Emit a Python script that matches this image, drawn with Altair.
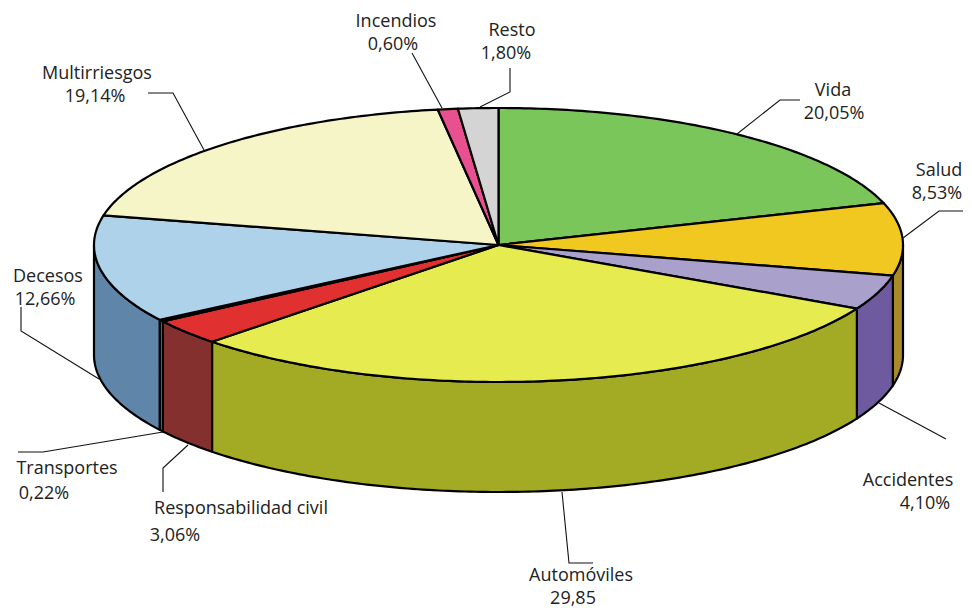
import math
import altair as alt
import pandas as pd

# ---- chart content -------------------------------------------------------
categories = ["Vida", "Salud", "Accidentes", "Automóviles", "Responsabilidad civil",
              "Transportes", "Decesos", "Multirriesgos", "Incendios", "Resto"]
printed_values = ["20,05%", "8,53%", "4,10%", "29,85", "3,06%",
                  "0,22%", "12,66%", "19,14%", "0,60%", "1,80%"]
shares = [20.05, 8.53, 4.10, 29.85, 3.06, 0.22, 12.66, 19.14, 0.80, 1.60]
top_colors = ["#7AC65A", "#F0C820", "#A9A0CC", "#E6EC50", "#E03030",
              "#7FA83C", "#AED2EA", "#F5F5C8", "#E8508F", "#D4D4D4"]
side_colors = ["#5E9A45", "#A88A28", "#6E5A9E", "#A3AB25", "#83302E",
               "#7B9E3A", "#5F85A8", "#BDBD98", "#B03D6E", "#A3A3A3"]

# ---- layout of the drawing (picture units) --------------------------------
CX, CY, RX, RY, DEPTH = 498.5, 245, 404.5, 137, 110
FONT, FSIZE, INK, NUDGE = "Open Sans", 18, "#222222", 2

name_pos = [(833, 89), (939, 169), (908, 479), (581, 574), (241, 507),
            (67, 467), (48, 275), (97, 72), (396, 20), (512, 29)]
value_pos = [(834, 112), (937, 192), (925, 502), (573, 597), (175, 534),
             (44, 492), (45, 298), (95, 95), (393, 43), (506, 52)]
leaders = [
    [(737, 134), (780, 100), (800, 100)],
    [(903, 238), (939, 211), (963, 211)],
    [(879, 403), (946, 439)],
    [(562, 492), (569, 563), (593, 563)],
    [(188, 445), (163, 468), (163, 492)],
    [(163, 432), (43, 452), (18, 452)],
    [(99, 379), (21, 331), (21, 307)],
    [(204, 150), (173, 93), (148, 93)],
    [(442, 108), (412, 53)],
    [(480, 107), (510, 92), (510, 68)],
]

# ---- scales: data units equal picture pixels ------------------------------
W, H = 956, 600
xs = alt.Scale(domain=[8, 8 + W], range=[0, W])
ys = alt.Scale(domain=[8, 8 + H], range=[0, H])
X = lambda f="x": alt.X(f + ":Q", scale=xs, axis=None)
Y = lambda f="y": alt.Y(f + ":Q", scale=ys, axis=None)


def rim(angle, drop=0.0):
    a = math.radians(angle)
    return CX + RX * math.sin(a), CY - RY * math.cos(a) + drop


def sweep(a0, a1):
    n = max(2, int(abs(a1 - a0) / 0.75) + 2)
    return [a0 + (a1 - a0) * i / (n - 1) for i in range(n)]


def polygon(points, fill):
    df = pd.DataFrame([{"x": p[0], "y": p[1], "i": i} for i, p in enumerate(points)])
    return alt.Chart(df).mark_line(
        interpolate="linear-closed", fill=fill, stroke="black",
        strokeWidth=2.2, strokeJoin="round", clip=False,
    ).encode(x=X(), y=Y(), order="i:Q")


total = sum(shares)
edges = [0.0]
for s in shares:
    edges.append(edges[-1] + 360.0 * s / total)

layers = []
# side walls (only the part of the rim that faces the viewer)
for k in range(len(shares)):
    a0, a1 = max(edges[k], 90.0), min(edges[k + 1], 270.0)
    if a1 > a0:
        arc = sweep(a0, a1)
        pts = [rim(a) for a in arc] + [rim(a, DEPTH) for a in reversed(arc)]
        layers.append(polygon(pts, side_colors[k]))
# top face
for k in range(len(shares)):
    pts = [(CX, CY)] + [rim(a) for a in sweep(edges[k], edges[k + 1])]
    layers.append(polygon(pts, top_colors[k]))

# leader lines
rows = []
for k, line in enumerate(leaders):
    for i, p in enumerate(line):
        rows.append({"x": p[0], "y": p[1], "i": i, "k": categories[k]})
layers.append(
    alt.Chart(pd.DataFrame(rows)).mark_line(color="#111111", strokeWidth=1.1, clip=False)
    .encode(x=X(), y=Y(), order="i:Q", detail="k:N")
)

# labels
label_rows = []
for k in range(len(categories)):
    label_rows.append({"t": categories[k], "x": name_pos[k][0], "y": name_pos[k][1] + NUDGE})
    label_rows.append({"t": printed_values[k], "x": value_pos[k][0], "y": value_pos[k][1] + NUDGE})
layers.append(
    alt.Chart(pd.DataFrame(label_rows)).mark_text(
        font=FONT, fontSize=FSIZE, color=INK, align="center", baseline="middle", clip=False
    ).encode(x=X(), y=Y(), text="t:N")
)

chart = alt.layer(*layers).properties(
    width=W, height=H, autosize=alt.AutoSizeParams(type="none"), padding=0, background="white"
).configure_view(stroke=None)

chart.save("out.html", embed_options={"renderer": "svg", "actions": False})
